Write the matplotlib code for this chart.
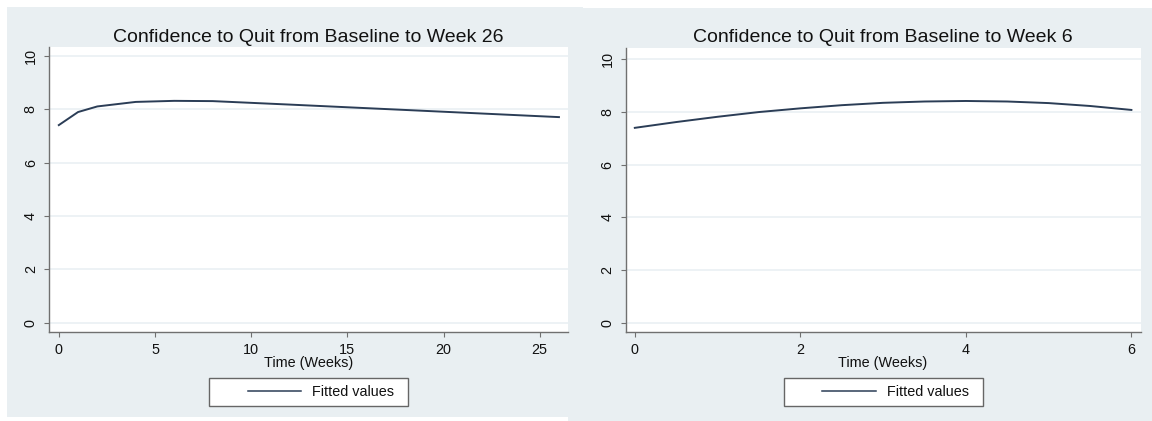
import matplotlib
matplotlib.use("Agg")
import matplotlib.pyplot as plt
from matplotlib.patches import Rectangle
from matplotlib.lines import Line2D

plt.rcParams['font.family'] = ['Liberation Sans', 'DejaVu Sans']

# ---- data -------------------------------------------------------------
weeks_26 = [0, 1, 2, 4, 6, 8, 12, 26]
conf_26 = [7.41, 7.90, 8.11, 8.28, 8.32, 8.31, 8.18, 7.71]

weeks_6 = [0, 0.5, 1, 1.5, 2, 2.5, 3, 3.5, 4, 4.5, 5, 5.5, 6]
conf_6 = [7.40, 7.62, 7.82, 8.00, 8.14, 8.26, 8.35, 8.40, 8.42, 8.40, 8.34, 8.23, 8.08]

titles = ["Confidence to Quit from Baseline to Week 26",
          "Confidence to Quit from Baseline to Week 6"]
xlabel = "Time (Weeks)"
legend_label = "Fitted values"
xticks_26 = [0, 5, 10, 15, 20, 25]
xticks_6 = [0, 2, 4, 6]
yticks = [0, 2, 4, 6, 8, 10]

# ---- style --------------------------------------------------------------
W, H = 1152, 421
BG = '#e9eff2'
GRID = '#e8eff2'
AXIS = '#707070'
LINE = '#2b3d56'
FS = 10.4

fig = plt.figure(figsize=(W / 100, H / 100), dpi=100)
fig.patch.set_facecolor('white')


def fx(px):
    return px / W


def fy(py):
    return 1 - py / H


# graph-region backgrounds
for (l, t, r, b) in [(7, 7, 583, 417), (568, 8, 1152, 421)]:
    fig.add_artist(Rectangle((fx(l), fy(b)), fx(r) - fx(l), fy(t) - fy(b),
                             transform=fig.transFigure, facecolor=BG,
                             edgecolor='none', zorder=0))

panels = [
    dict(box=(49, 47, 568, 331.7), x=weeks_26, y=conf_26, xlim=(-0.51, 26.47),
         ylim=(-0.34, 10.34), xticks=xticks_26, title=titles[0], tb=41.5),
    dict(box=(625.7, 48.3, 1140.5, 331.7), x=weeks_6, y=conf_6, xlim=(-0.11, 6.11),
         ylim=(-0.34, 10.42), xticks=xticks_6, title=titles[1], tb=42.5),
]

for p in panels:
    l, t, r, b = p['box']
    ax = fig.add_axes([fx(l), fy(b), fx(r) - fx(l), fy(t) - fy(b)])
    ax.set_facecolor('white')
    ax.set_zorder(2)
    ax.set_xlim(*p['xlim'])
    ax.set_ylim(*p['ylim'])
    ax.set_xticks(p['xticks'])
    ax.set_yticks(yticks)
    ax.yaxis.grid(True, color=GRID, linewidth=1.1)
    ax.set_axisbelow(True)
    for s in ('top', 'right'):
        ax.spines[s].set_visible(False)
    for s in ('left', 'bottom'):
        ax.spines[s].set_color(AXIS)
        ax.spines[s].set_linewidth(1.0)
    ax.tick_params(axis='both', direction='out', length=3.8, width=0.8,
                   color=AXIS, labelsize=FS, pad=4.3, labelcolor='#111111')
    ax.tick_params(axis='y', labelrotation=90)
    for lab in ax.get_yticklabels():
        lab.set_va('center')

    line, = ax.plot(p['x'], p['y'], color=LINE, linewidth=1.4,
                    solid_joinstyle='round')

    cx = (l + r) / 2
    fig.text(fx(cx), fy(p['tb']), p['title'], ha='center', va='baseline',
             fontsize=14, color='#111111')
    fig.text(fx(cx), fy(367.5), xlabel, ha='center', va='baseline',
             fontsize=FS, color='#111111')

    # legend with its outlined box
    fig.add_artist(Rectangle((fx(cx - 99.5), fy(406)), fx(199), fy(378.3) - fy(406),
                             transform=fig.transFigure, facecolor='white',
                             edgecolor='#666666', linewidth=1.0, zorder=1))
    handle = Line2D([], [], color=LINE, linewidth=1.1)
    leg = ax.legend([handle], [legend_label], loc='center left',
                    bbox_to_anchor=(fx(cx - 61), fy(392.5)),
                    bbox_transform=fig.transFigure, frameon=False,
                    fontsize=FS, handlelength=3.7, handletextpad=0.76,
                    borderpad=0, borderaxespad=0)
    for txt in leg.get_texts():
        txt.set_color('#111111')

fig.savefig('out.png', dpi=100, facecolor=fig.get_facecolor())
